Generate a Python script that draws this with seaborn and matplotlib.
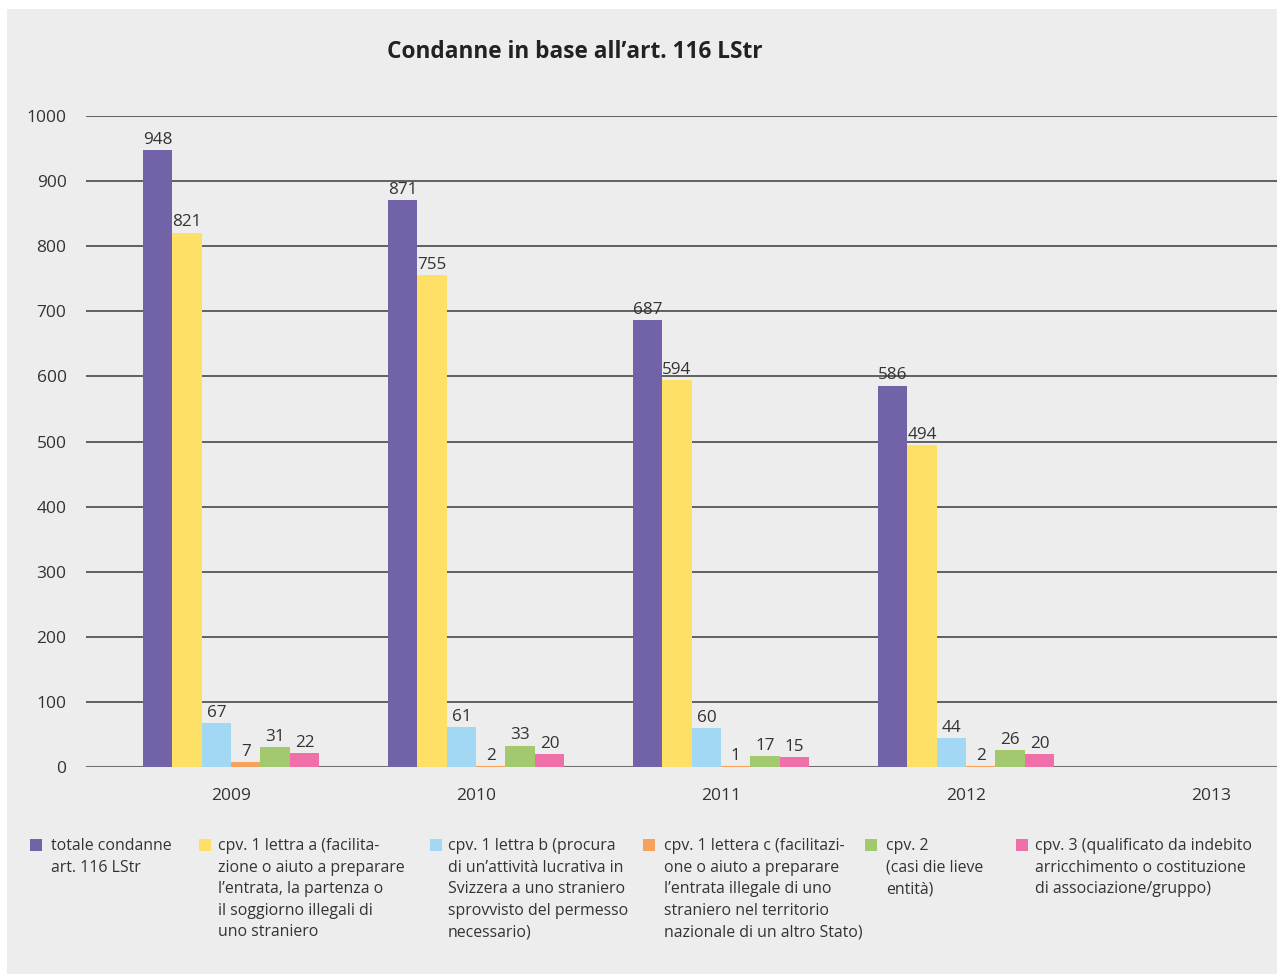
import matplotlib
matplotlib.use("Agg")
import matplotlib.pyplot as plt
from matplotlib.patches import Rectangle
import pandas as pd
import seaborn as sns

years = ["2009", "2010", "2011", "2012", "2013"]
series = [
    "totale condanne\nart. 116 LStr",
    "cpv. 1 lettra a (facilita-\nzione o aiuto a preparare\nl’entrata, la partenza o\nil soggiorno illegali di\nuno straniero",
    "cpv. 1 lettra b (procura\ndi un’attività lucrativa in\nSvizzera a uno straniero\nsprovvisto del permesso\nnecessario)",
    "cpv. 1 lettera c (facilitazi-\none o aiuto a preparare\nl’entrata illegale di uno\nstraniero nel territorio\nnazionale di un altro Stato)",
    "cpv. 2\n(casi die lieve\nentità)",
    "cpv. 3 (qualificato da indebito\narricchimento o costituzione\ndi associazione/gruppo)",
]
totale = [948, 871, 687, 586]
lettera_a = [821, 755, 594, 494]
lettera_b = [67, 61, 60, 44]
lettera_c = [7, 2, 1, 2]
cpv2 = [31, 33, 17, 26]
cpv3 = [22, 20, 15, 20]
colors = ["#7262a8", "#ffe066", "#a3d8f4", "#f7a25c", "#a2c96e", "#ef70a9"]

values = [totale, lettera_a, lettera_b, lettera_c, cpv2, cpv3]
rows = []
for name, vals in zip(series, values):
    for y, v in zip(years, vals):
        rows.append({"anno": y, "serie": name, "valore": v})
df = pd.DataFrame(rows)

W, H = 1283, 974
fig = plt.figure(figsize=(W / 100, H / 100), dpi=100, facecolor="white")
fig.patches.append(Rectangle((7 / W, 0), (1277 - 7) / W, 1 - 9 / H,
                             transform=fig.transFigure, facecolor="#ededed",
                             edgecolor="none", zorder=-10))

font = "Open Sans"
txt = "#333333"

ax = fig.add_axes([86 / W, 1 - 767 / H, (1277 - 86) / W, (767 - 116) / H])
ax.set_facecolor("none")

sns.barplot(data=df, x="anno", y="valore", hue="serie", order=years,
            hue_order=series, palette=colors, width=0.72, saturation=1,
            edgecolor="none", linewidth=0, legend=False, ax=ax, zorder=5)

for cont, vals in zip(ax.containers, values):
    ax.bar_label(cont, labels=[str(v) for v in vals], padding=1.5,
                 fontsize=12.3, color=txt, fontfamily=font)

ax.set_xlim(-0.592, 4.269)
ax.set_ylim(0, 1000)
ax.set_yticks(range(0, 1001, 100))
ax.yaxis.grid(True, color="#3a3a3a", linewidth=1.1, zorder=0)
ax.set_axisbelow(True)
ax.axhline(0, color="#707070", linewidth=2.2, zorder=4)
for s in ax.spines.values():
    s.set_visible(False)
ax.tick_params(axis="both", length=0, labelsize=12.5, labelcolor=txt)
ax.tick_params(axis="y", pad=14)
ax.tick_params(axis="x", pad=15)
for lab in ax.get_xticklabels() + ax.get_yticklabels():
    lab.set_fontfamily(font)
ax.set_xlabel("")
ax.set_ylabel("")

fig.text(575 / W, 1 - 52 / H, "Condanne in base all’art. 116 LStr",
         ha="center", va="center", fontsize=16.3, fontweight="bold",
         color="#222222", fontfamily=font)

sq_x = [30, 199, 430, 643, 865, 1016]
tx_x = [51, 218, 448, 664, 886, 1035]
for name, col, sx, tx in zip(series, colors, sq_x, tx_x):
    fig.patches.append(Rectangle((sx / W, 1 - 851 / H), 12 / W, 12 / H,
                                 transform=fig.transFigure, facecolor=col,
                                 edgecolor="none"))
    fig.text(tx / W, 1 - 838 / H, name, ha="left", va="top", fontsize=11.4,
             color=txt, fontfamily=font, linespacing=1.46)

fig.savefig("out.png", dpi=100, facecolor="white")
